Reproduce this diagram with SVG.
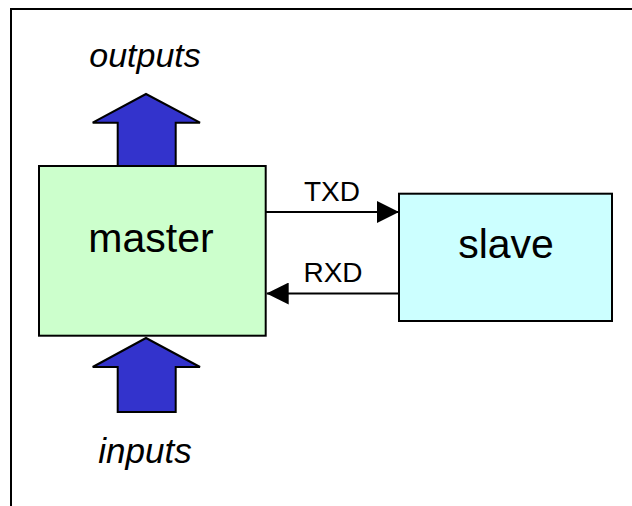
<svg xmlns="http://www.w3.org/2000/svg" width="632" height="506" viewBox="0 0 632 506">
  <style>
    .frame { fill: none; stroke: #000; stroke-width: 2; }
    .box { stroke: #000; stroke-width: 2; }
    .big { stroke: #000; stroke-width: 2; fill: #3333CC; stroke-linejoin: miter; }
    .wire { stroke: #000; stroke-width: 2; fill: none; }
    .label { font-family: "Liberation Sans", Arial, sans-serif; fill: #000; text-anchor: middle; }
  </style>
  <defs>
    <marker id="tri" viewBox="0 0 22 22" refX="22" refY="11" markerWidth="22" markerHeight="22" markerUnits="userSpaceOnUse" orient="auto">
      <path d="M0,0 L22,11 L0,22 Z" fill="#000"/>
    </marker>
  </defs>

  <rect width="632" height="506" fill="#fff"/>
  <path class="frame" d="M11,506 V9 H632"/>

  <!-- block arrows -->
  <g id="outputs">
    <path class="big" d="M117.7,166 V122.7 H92.7 L146,94 L200,122.7 H175.7 V166 Z"/>
    <text class="label" x="145" y="67" font-size="34" font-style="italic">outputs</text>
  </g>
  <g id="inputs">
    <path class="big" d="M117.7,412 V367 H92.7 L146,338 L200,367 H175.7 V412 Z"/>
    <text class="label" x="145" y="463" font-size="35" font-style="italic">inputs</text>
  </g>

  <g id="master">
    <rect class="box" x="39" y="166" width="226.7" height="169.7" fill="#CCFFCC"/>
    <text class="label" x="151" y="252" font-size="41">master</text>
  </g>

  <g id="slave">
    <rect class="box" x="399" y="193.7" width="213" height="127.3" fill="#CCFFFF"/>
    <text class="label" x="506" y="258" font-size="41">slave</text>
  </g>

  <g id="connectors">
    <line class="wire" x1="265.7" y1="212" x2="399" y2="212" marker-end="url(#tri)"/>
    <text class="label" x="332" y="201" font-size="28">TXD</text>
    <line class="wire" x1="399" y1="293.5" x2="266.7" y2="293.5" marker-end="url(#tri)"/>
    <text class="label" x="333" y="282" font-size="28">RXD</text>
  </g>
</svg>
